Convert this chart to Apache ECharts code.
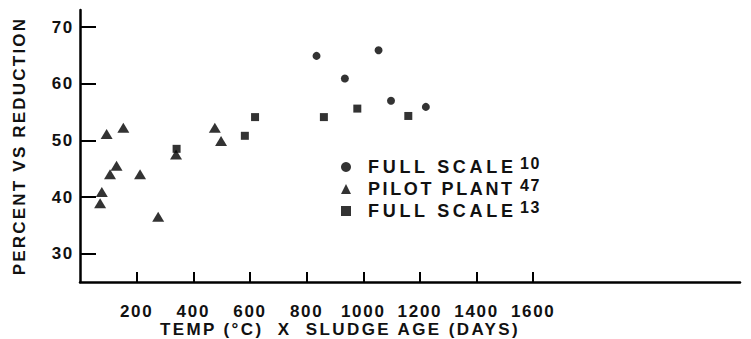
<!DOCTYPE html>
<html>
<head>
<meta charset="utf-8">
<script src="https://cdn.jsdelivr.net/npm/echarts@6/dist/echarts.min.js"></script>
<style>
html,body{margin:0;padding:0;background:#fff;}
#chart{width:751px;height:339px;}
</style>
</head>
<body>
<div id="chart"></div>
<script>
// ---- data ----
const xTickValues = [200, 400, 600, 800, 1000, 1200, 1400, 1600];
const yTickValues = [30, 40, 50, 60, 70];

const seriesNames = ['FULL SCALE 10', 'PILOT PLANT 47', 'FULL SCALE 13'];
const seriesSymbols = ['circle', 'triangle', 'rect'];

const fullScale10 = [[835, 64.9], [935, 60.9], [1054, 65.9], [1098, 57.0], [1221, 55.9]];
const pilotPlant47 = [[94, 51.1], [153, 52.2], [77, 40.9], [71, 38.9], [129, 45.5], [106, 44.0],
                      [212, 44.0], [276, 36.5], [339, 47.5], [476, 52.2], [498, 49.9]];
const fullScale13 = [[341, 48.5], [582, 50.8], [618, 54.1], [861, 54.1], [979, 55.6], [1159, 54.3]];

const xAxisName = 'TEMP (°C)  X  SLUDGE AGE (DAYS)';
const yAxisName = 'PERCENT VS REDUCTION';

// ---- chart ----
const FONT = '"Liberation Sans", Arial, sans-serif';
const INK = '#111';
const chart = echarts.init(document.getElementById('chart'), null, {renderer: 'svg'});

const textBase = {color: INK, fontSize: 18, fontFamily: FONT, fontWeight: 'bold'};
const axisText = {color: INK, fontSize: 17, fontFamily: FONT, fontWeight: 'bold'};

const option = {
  animation: false,
  backgroundColor: '#fff',
  grid: {left: 80, right: 11, top: 10, bottom: 57, containLabel: false, outerBoundsMode: 'none'},
  xAxis: {
    type: 'value', min: 0, max: 2330,
    axisLine: {show: true, onZero: false, lineStyle: {color: '#000', width: 2.5}},
    splitLine: {show: false},
    axisTick: {show: true, inside: true, length: 10, customValues: xTickValues,
               lineStyle: {color: '#000', width: 2}},
    axisLabel: Object.assign({customValues: xTickValues, margin: 21,
                              formatter: function (v) { return String(v); }}, axisText),
    name: xAxisName, nameLocation: 'middle', nameGap: 39, nameMoveOverlap: false,
    nameTextStyle: Object.assign({padding: [0, 140, 0, 0]}, axisText)
  },
  yAxis: {
    type: 'value', min: 25, max: 73,
    axisLine: {show: true, onZero: false, lineStyle: {color: '#000', width: 2.5}},
    splitLine: {show: false},
    axisTick: {show: true, inside: true, length: 16, customValues: yTickValues,
               lineStyle: {color: '#000', width: 2}},
    axisLabel: Object.assign({customValues: yTickValues, margin: 6,
                              formatter: function (v) { return String(v); }}, axisText),
    name: yAxisName, nameLocation: 'middle', nameGap: 52, nameMoveOverlap: false,
    nameTextStyle: Object.assign({}, axisText)
  },
  legend: {
    orient: 'vertical', left: 336, top: 150, itemGap: 1,
    itemWidth: 10, itemHeight: 10,
    data: seriesNames.map((n, i) => ({name: n, icon: seriesSymbols[i]})),
    formatter: function (name) {
      const k = name.lastIndexOf(' ');
      return '{a|' + name.slice(0, k) + '}{s|' + name.slice(k + 1) + '}';
    },
    textStyle: {
      color: INK, fontFamily: FONT,
      rich: {
        a: Object.assign({lineHeight: 24, width: 152, padding: [0, 0, 0, 12]}, textBase),
        s: Object.assign({}, textBase, {fontSize: 16, lineHeight: 6, verticalAlign: 'top'})
      }
    },
    itemStyle: {color: '#000'}
  },
  series: [
    {name: seriesNames[0], type: 'scatter', data: fullScale10, symbol: 'circle', symbolSize: 8,
     itemStyle: {color: '#000'}},
    {name: seriesNames[1], type: 'scatter', data: pilotPlant47, symbol: 'triangle', symbolSize: [12, 10],
     itemStyle: {color: '#000'}},
    {name: seriesNames[2], type: 'scatter', data: fullScale13, symbol: 'rect', symbolSize: 8,
     itemStyle: {color: '#000'}}
  ]
};
chart.setOption(option);

// widen the letter spacing of the typed lettering to match the original
function spaceText() {
  document.querySelectorAll('#chart svg text').forEach(function (t) {
    const s = t.textContent;
    let ls = 1.7;
    if (s === 'FULL SCALE') ls = 3.7;
    else if (s === 'PILOT PLANT') ls = 2.6;
    else if (s === xAxisName) ls = 2.4;
    else if (s === yAxisName) ls = 2.2;
    else if ((s === '10' || s === '47' || s === '13') && t.closest('g') !== null &&
             parseFloat(getComputedStyle(t).fontSize) < 17) ls = 1.5;
    t.style.letterSpacing = ls + 'px';
  });
}
spaceText();
chart.on('finished', spaceText);
</script>
</body>
</html>
